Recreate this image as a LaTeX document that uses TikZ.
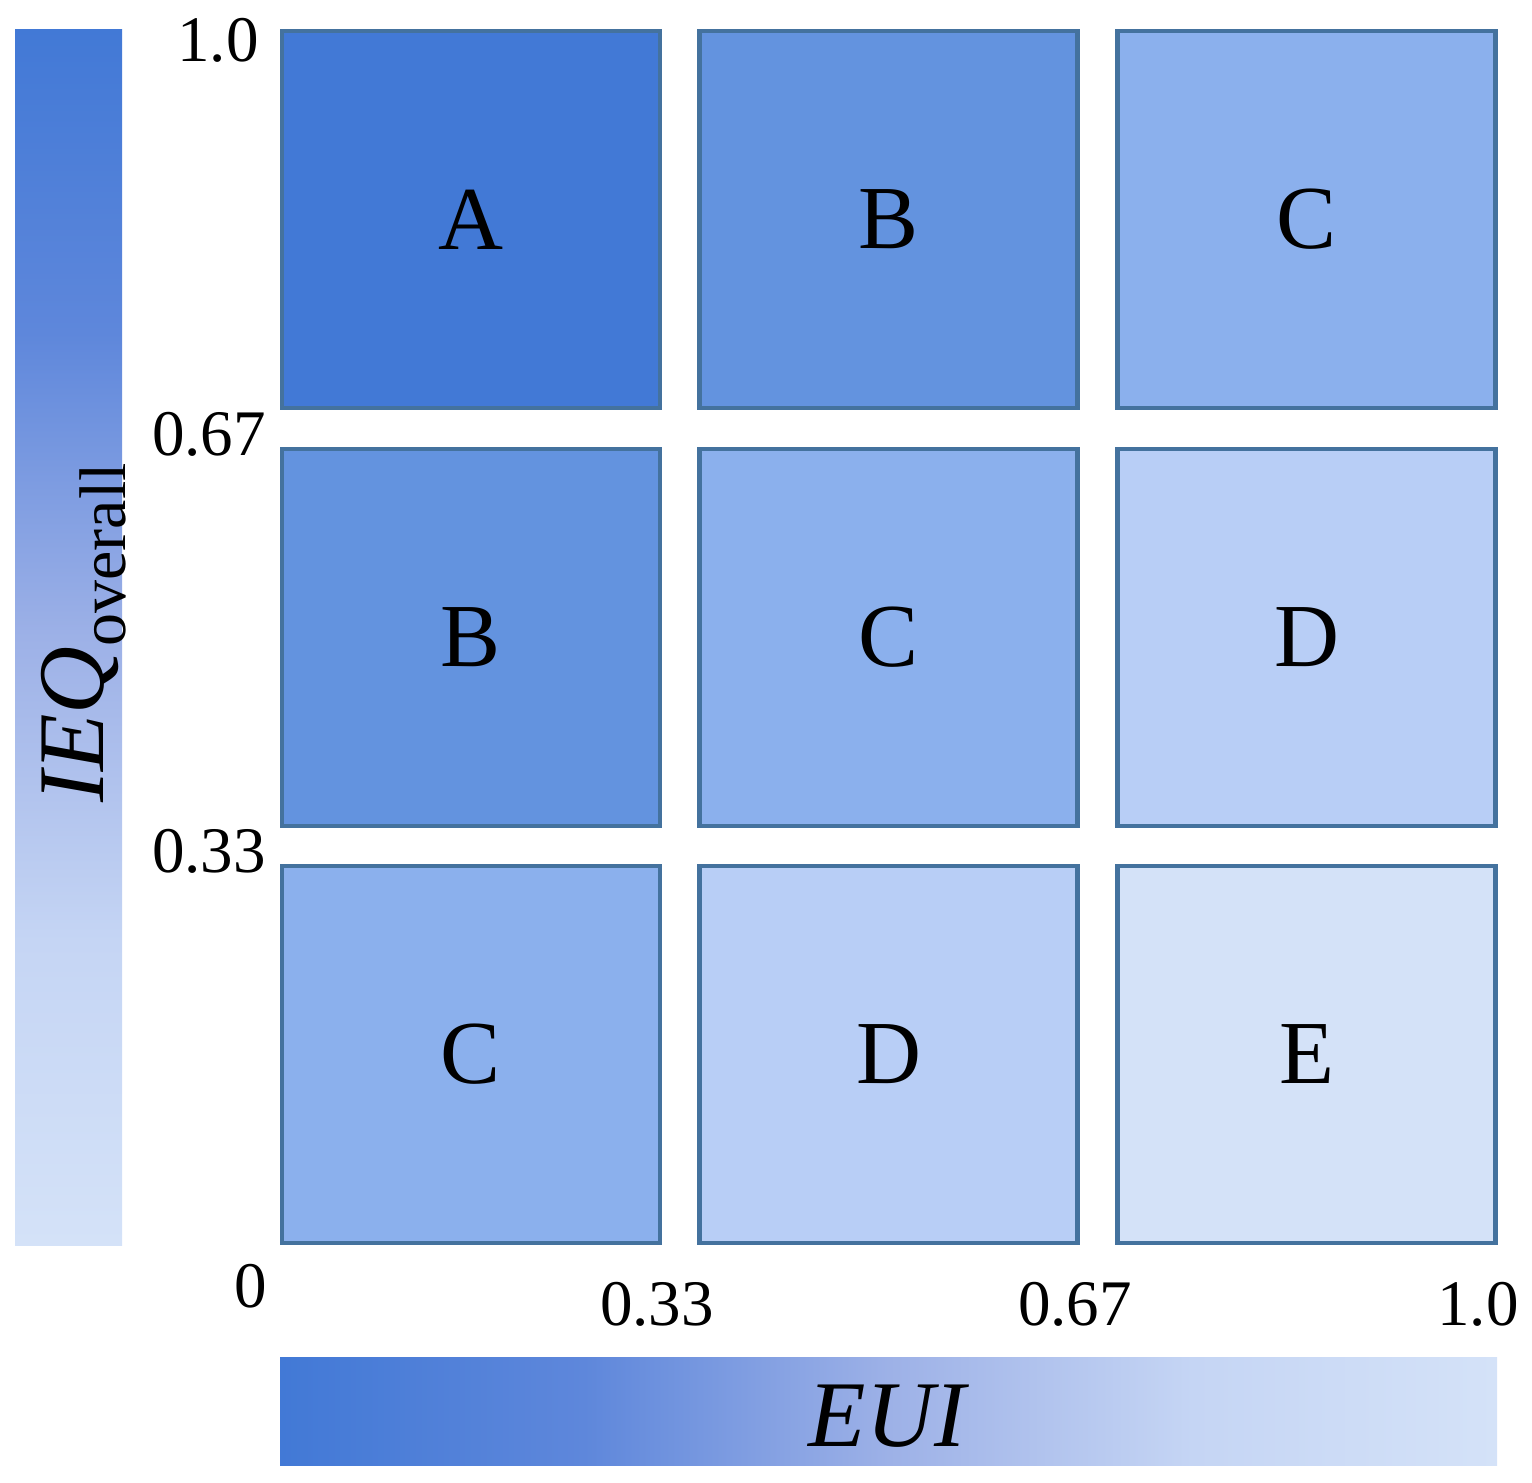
\documentclass[tikz,border=0pt]{standalone}
\usepackage{fontspec}
\setmainfont{Liberation Serif}
\definecolor{cA}{HTML}{4279D6}
\definecolor{cB}{HTML}{6393DF}
\definecolor{cC}{HTML}{8BB0ED}
\definecolor{cD}{HTML}{B8CEF6}
\definecolor{cE}{HTML}{D4E2F8}
\definecolor{edge}{HTML}{44729E}
\definecolor{gA}{HTML}{4279D6}
\definecolor{gB}{HTML}{5E87DB}
\definecolor{gC}{HTML}{9DB1E7}
\definecolor{gD}{HTML}{C5D5F4}
\definecolor{gE}{HTML}{D4E2F8}
\pgfdeclarehorizontalshading{barh}{100bp}{color(0bp)=(gA); color(25bp)=(gA); color(37.5bp)=(gB); color(50bp)=(gC); color(62.5bp)=(gD); color(75bp)=(gE); color(100bp)=(gE)}
\pgfdeclareverticalshading{barv}{100bp}{color(0bp)=(gE); color(25bp)=(gE); color(37.5bp)=(gD); color(50bp)=(gC); color(62.5bp)=(gB); color(75bp)=(gA); color(100bp)=(gA)}
\begin{document}
\begin{tikzpicture}[x=0.5pt,y=-0.5pt,
  cell/.style={draw=edge,line width=2.2pt,minimum width=189pt,minimum height=188.5pt,inner sep=0pt,
    font=\fontsize{45}{54}\selectfont},
  tick/.style={inner sep=0pt,font=\fontsize{32.5}{39}\selectfont},
  axlabel/.style={inner sep=0pt,font=\fontsize{47}{56}\selectfont\itshape}]
\useasboundingbox (0,0) rectangle (1532,1483);
% colour bars
\shade[shading=barv] (15,29) rectangle (122,1245);
\shade[shading=barh] (280,1357) rectangle (1497,1465);
% cells
\node[cell,fill=cA] (a1) at (471,219.5) {A};
\node[cell,fill=cB] (b1) at (888.5,219.5) {B};
\node[cell,fill=cC] (c1) at (1306.5,219.5) {C};
\node[cell,fill=cB] (b2) at (471,637.5) {B};
\node[cell,fill=cC] (c2) at (888.5,637.5) {C};
\node[cell,fill=cD] (d2) at (1306.5,637.5) {D};
\node[cell,fill=cC] (c3) at (471,1054.5) {C};
\node[cell,fill=cD] (d3) at (888.5,1054.5) {D};
\node[cell,fill=cE] (e3) at (1306.5,1054.5) {E};
% tick labels
\node[tick] (y10) at (218,40) {1.0};
\node[tick] (y67) at (209,434) {0.67};
\node[tick] (y33) at (209,851) {0.33};
\node[tick] (x0) at (251,1286) {0};
\node[tick] (x33) at (657,1304) {0.33};
\node[tick] (x67) at (1075,1304) {0.67};
\node[tick] (x10) at (1478,1304) {1.0};
% axis labels
\node[axlabel,rotate=90] (ieq) at (84,633) {IEQ\raisebox{-11pt}{\fontsize{33}{40}\selectfont\upshape overall}};
\node[axlabel] (eui) at (887,1416) {EUI};
\end{tikzpicture}
\end{document}
